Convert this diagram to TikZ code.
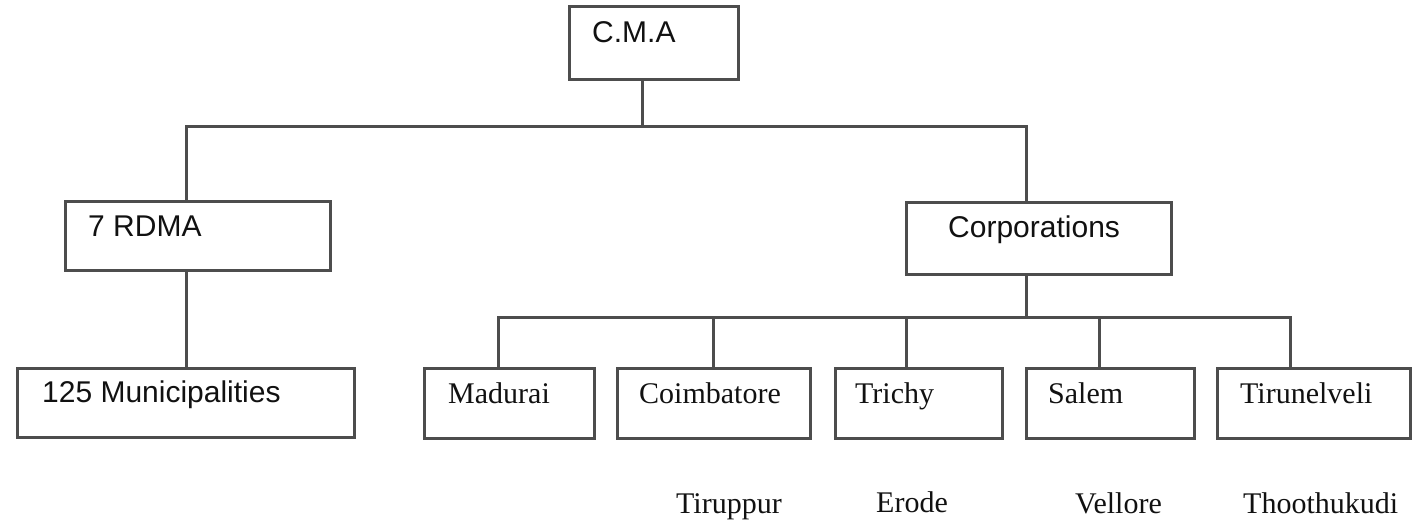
\documentclass[tikz,border=0pt]{standalone}
\usepackage{fontspec}
\setmainfont{Liberation Serif}
\newfontfamily\arialfont{Liberation Sans}
\definecolor{wire}{HTML}{4D4D4D}
\definecolor{ink}{HTML}{111111}
\newcommand{\chartsize}{\fontsize{30}{36}\selectfont}
\tikzset{
  box/.style={draw=wire,line width=3pt,rectangle,inner sep=0},
  link/.style={draw=wire,line width=3pt},
  tag/.style={anchor=base west,inner sep=0,text=ink,font=\chartsize},
  stag/.style={tag,font=\chartsize\arialfont}
}

\begin{document}
\begin{tikzpicture}[x=1pt,y=-1pt]
\useasboundingbox (0,0) rectangle (1422,526);
% boxes
\node[box,minimum width=169,minimum height=73] (cma) at (653.5,43.5) {};
\node[box,minimum width=265,minimum height=69] (rdma) at (197.5,236.5) {};
\node[box,minimum width=337,minimum height=69] (muni) at (185.5,403.5) {};
\node[box,minimum width=265,minimum height=72] (corp) at (1038.5,239) {};
\node[box,minimum width=170,minimum height=70] (madurai) at (509,404) {};
\node[box,minimum width=193,minimum height=70] (coimb) at (713.5,404) {};
\node[box,minimum width=167,minimum height=70] (trichy) at (918.5,404) {};
\node[box,minimum width=168,minimum height=70] (salem) at (1110,404) {};
\node[box,minimum width=193,minimum height=70] (tirun) at (1313.5,404) {};
% texts
\node[stag] (cmatxt) at (592,43) {C.M.A};
\node[stag] (rdmatxt) at (88,237) {7 RDMA};
\node[stag] (munitxt) at (42,403) {125 Municipalities};
\node[stag] (corptxt) at (948,238) {Corporations};
\node[tag] (madtxt) at (448,404) {Madurai};
\node[tag] (coimbtxt) at (639,404) {Coimbatore};
\node[tag] (trichytxt) at (855,404) {Trichy};
\node[tag] (salemtxt) at (1048,404) {Salem};
\node[tag] (tiruntxt) at (1240,404) {Tirunelveli};
\node[tag] (tirup) at (676,513) {Tiruppur};
\node[tag] (erode) at (876,512) {Erode};
\node[tag] (vellore) at (1075,513) {Vellore};
\node[tag] (thoot) at (1243,513) {Thoothukudi};
% joints
\coordinate (top) at (642,127);
\coordinate (busL) at (186,127);
\coordinate (busR) at (1026,127);
\coordinate (split) at (1026,318);
\coordinate (vmad) at (498,318);
\coordinate (vcoimb) at (713,318);
\coordinate (vtrichy) at (906,318);
\coordinate (vsalem) at (1099,318);
\coordinate (vtirun) at (1290,318);
% links
\draw[link] (cma.south -| top) -- (top);
\draw[link] (busL |- rdma.north) -- (busL) -- (busR) -- (busR |- corp.north);
\draw[link] (busL |- rdma.south) -- (busL |- muni.north);
\draw[link] (split |- corp.south) -- (split);
\draw[link] (vmad |- madurai.north) -- (vmad) -- (vtirun) -- (vtirun |- tirun.north);
\draw[link] (vcoimb) -- (vcoimb |- coimb.north);
\draw[link] (vtrichy) -- (vtrichy |- trichy.north);
\draw[link] (vsalem) -- (vsalem |- salem.north);
\end{tikzpicture}
\end{document}
